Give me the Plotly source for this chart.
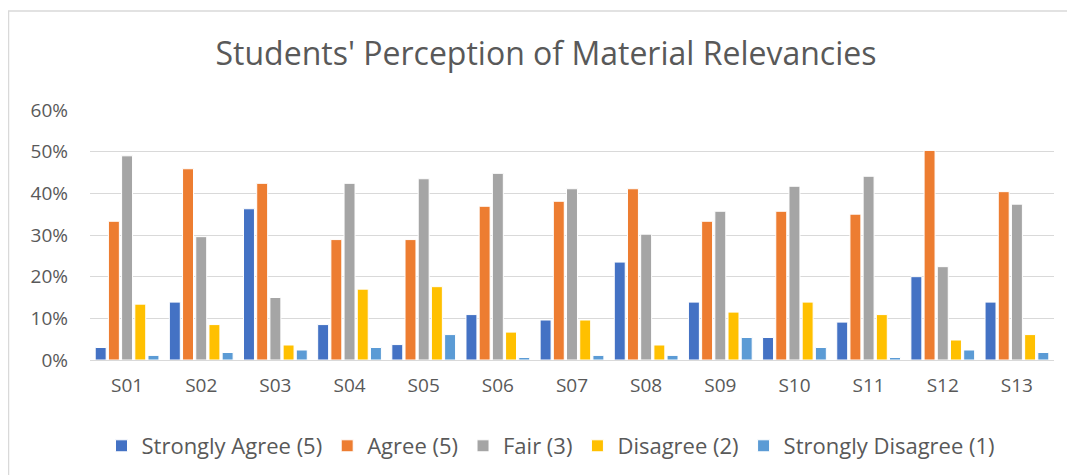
import plotly.graph_objects as go

categories = ["S01", "S02", "S03", "S04", "S05", "S06", "S07", "S08", "S09", "S10", "S11", "S12", "S13"]
strongly_agree = [3.0, 13.9, 36.3, 8.5, 3.7, 10.9, 9.6, 23.5, 13.9, 5.4, 9.1, 20.0, 13.9]
agree = [33.3, 45.9, 42.4, 28.9, 28.9, 36.9, 38.1, 41.1, 33.3, 35.7, 35.0, 50.3, 40.4]
fair = [49.0, 29.6, 15.0, 42.4, 43.5, 44.8, 41.1, 30.2, 35.7, 41.7, 44.1, 22.4, 37.4]
disagree = [13.4, 8.5, 3.6, 17.0, 17.6, 6.7, 9.6, 3.6, 11.5, 13.9, 10.9, 4.8, 6.1]
strongly_disagree = [1.1, 1.8, 2.4, 3.0, 6.1, 0.6, 1.1, 1.1, 5.4, 3.0, 0.6, 2.4, 1.8]

series = [
    ("Strongly Agree (5)", strongly_agree, "#4472C4"),
    ("Agree (5)", agree, "#ED7D31"),
    ("Fair (3)", fair, "#A5A5A5"),
    ("Disagree (2)", disagree, "#FFC000"),
    ("Strongly Disagree (1)", strongly_disagree, "#5B9BD5"),
]

FONT = "Open Sans"
TXT = "#595959"

fig = go.Figure()
for name, vals, color in series:
    fig.add_trace(go.Bar(
        name=name, x=categories, y=[v / 100 for v in vals],
        marker=dict(color=color, line=dict(color="white", width=1)),
    ))

# page has an 8px body margin: figure coords = page coords - 8
OFF = 8
W, H = 1075 - OFF, 475 - OFF
PL, PR, PT, PB = 90, 1054, 110, 360  # plot area in page pixels
L, R, T, B = PL - OFF, W - (PR - OFF), PT - OFF, H - (PB - OFF)
pw, ph = W - L - R, H - T - B

def px_x(x):
    return (x - OFF - L) / pw

def px_y(y):
    return (H - B - (y - OFF)) / ph

fig.update_layout(
    width=W, height=H,
    margin=dict(l=L, r=R, t=T, b=B, autoexpand=False),
    paper_bgcolor="white", plot_bgcolor="white",
    barmode="group", bargap=0.11, bargroupgap=0.17,
    font=dict(family=FONT, color=TXT, size=19),
    title=dict(text="Students' Perception of Material Relevancies",
               x=(546 - OFF) / W, xanchor="center", y=1 - (54 - OFF) / H, yanchor="middle",
               font=dict(family=FONT, size=32, color=TXT)),
    showlegend=True,
    legend=dict(orientation="h", x=px_x(551), xanchor="center",
                y=px_y(446), yanchor="middle",
                font=dict(family=FONT, size=22, color=TXT),
                itemwidth=30, traceorder="normal"),
    xaxis=dict(showgrid=False, showline=True, linecolor="#d9d9d9", linewidth=1,
               automargin=False,
               ticks="", tickfont=dict(size=19, color=TXT), ticklabelstandoff=8),
    yaxis=dict(range=[0, 0.6], dtick=0.1, tickformat=".0%", showgrid=True,
               automargin=False,
               gridcolor="#d9d9d9", gridwidth=1, zeroline=False, showline=False,
               ticks="", tickfont=dict(size=19, color=TXT), ticklabelstandoff=21),
    shapes=[
        dict(type="line", xref="paper", yref="paper",
             x0=px_x(8), x1=px_x(1080), y0=px_y(11), y1=px_y(11),
             line=dict(color="#d9d9d9", width=1.5)),
        dict(type="line", xref="paper", yref="paper",
             x0=px_x(8.5), x1=px_x(8.5), y0=px_y(11), y1=px_y(480),
             line=dict(color="#d9d9d9", width=1.5)),
    ],
)

fig.write_html("out.html")
